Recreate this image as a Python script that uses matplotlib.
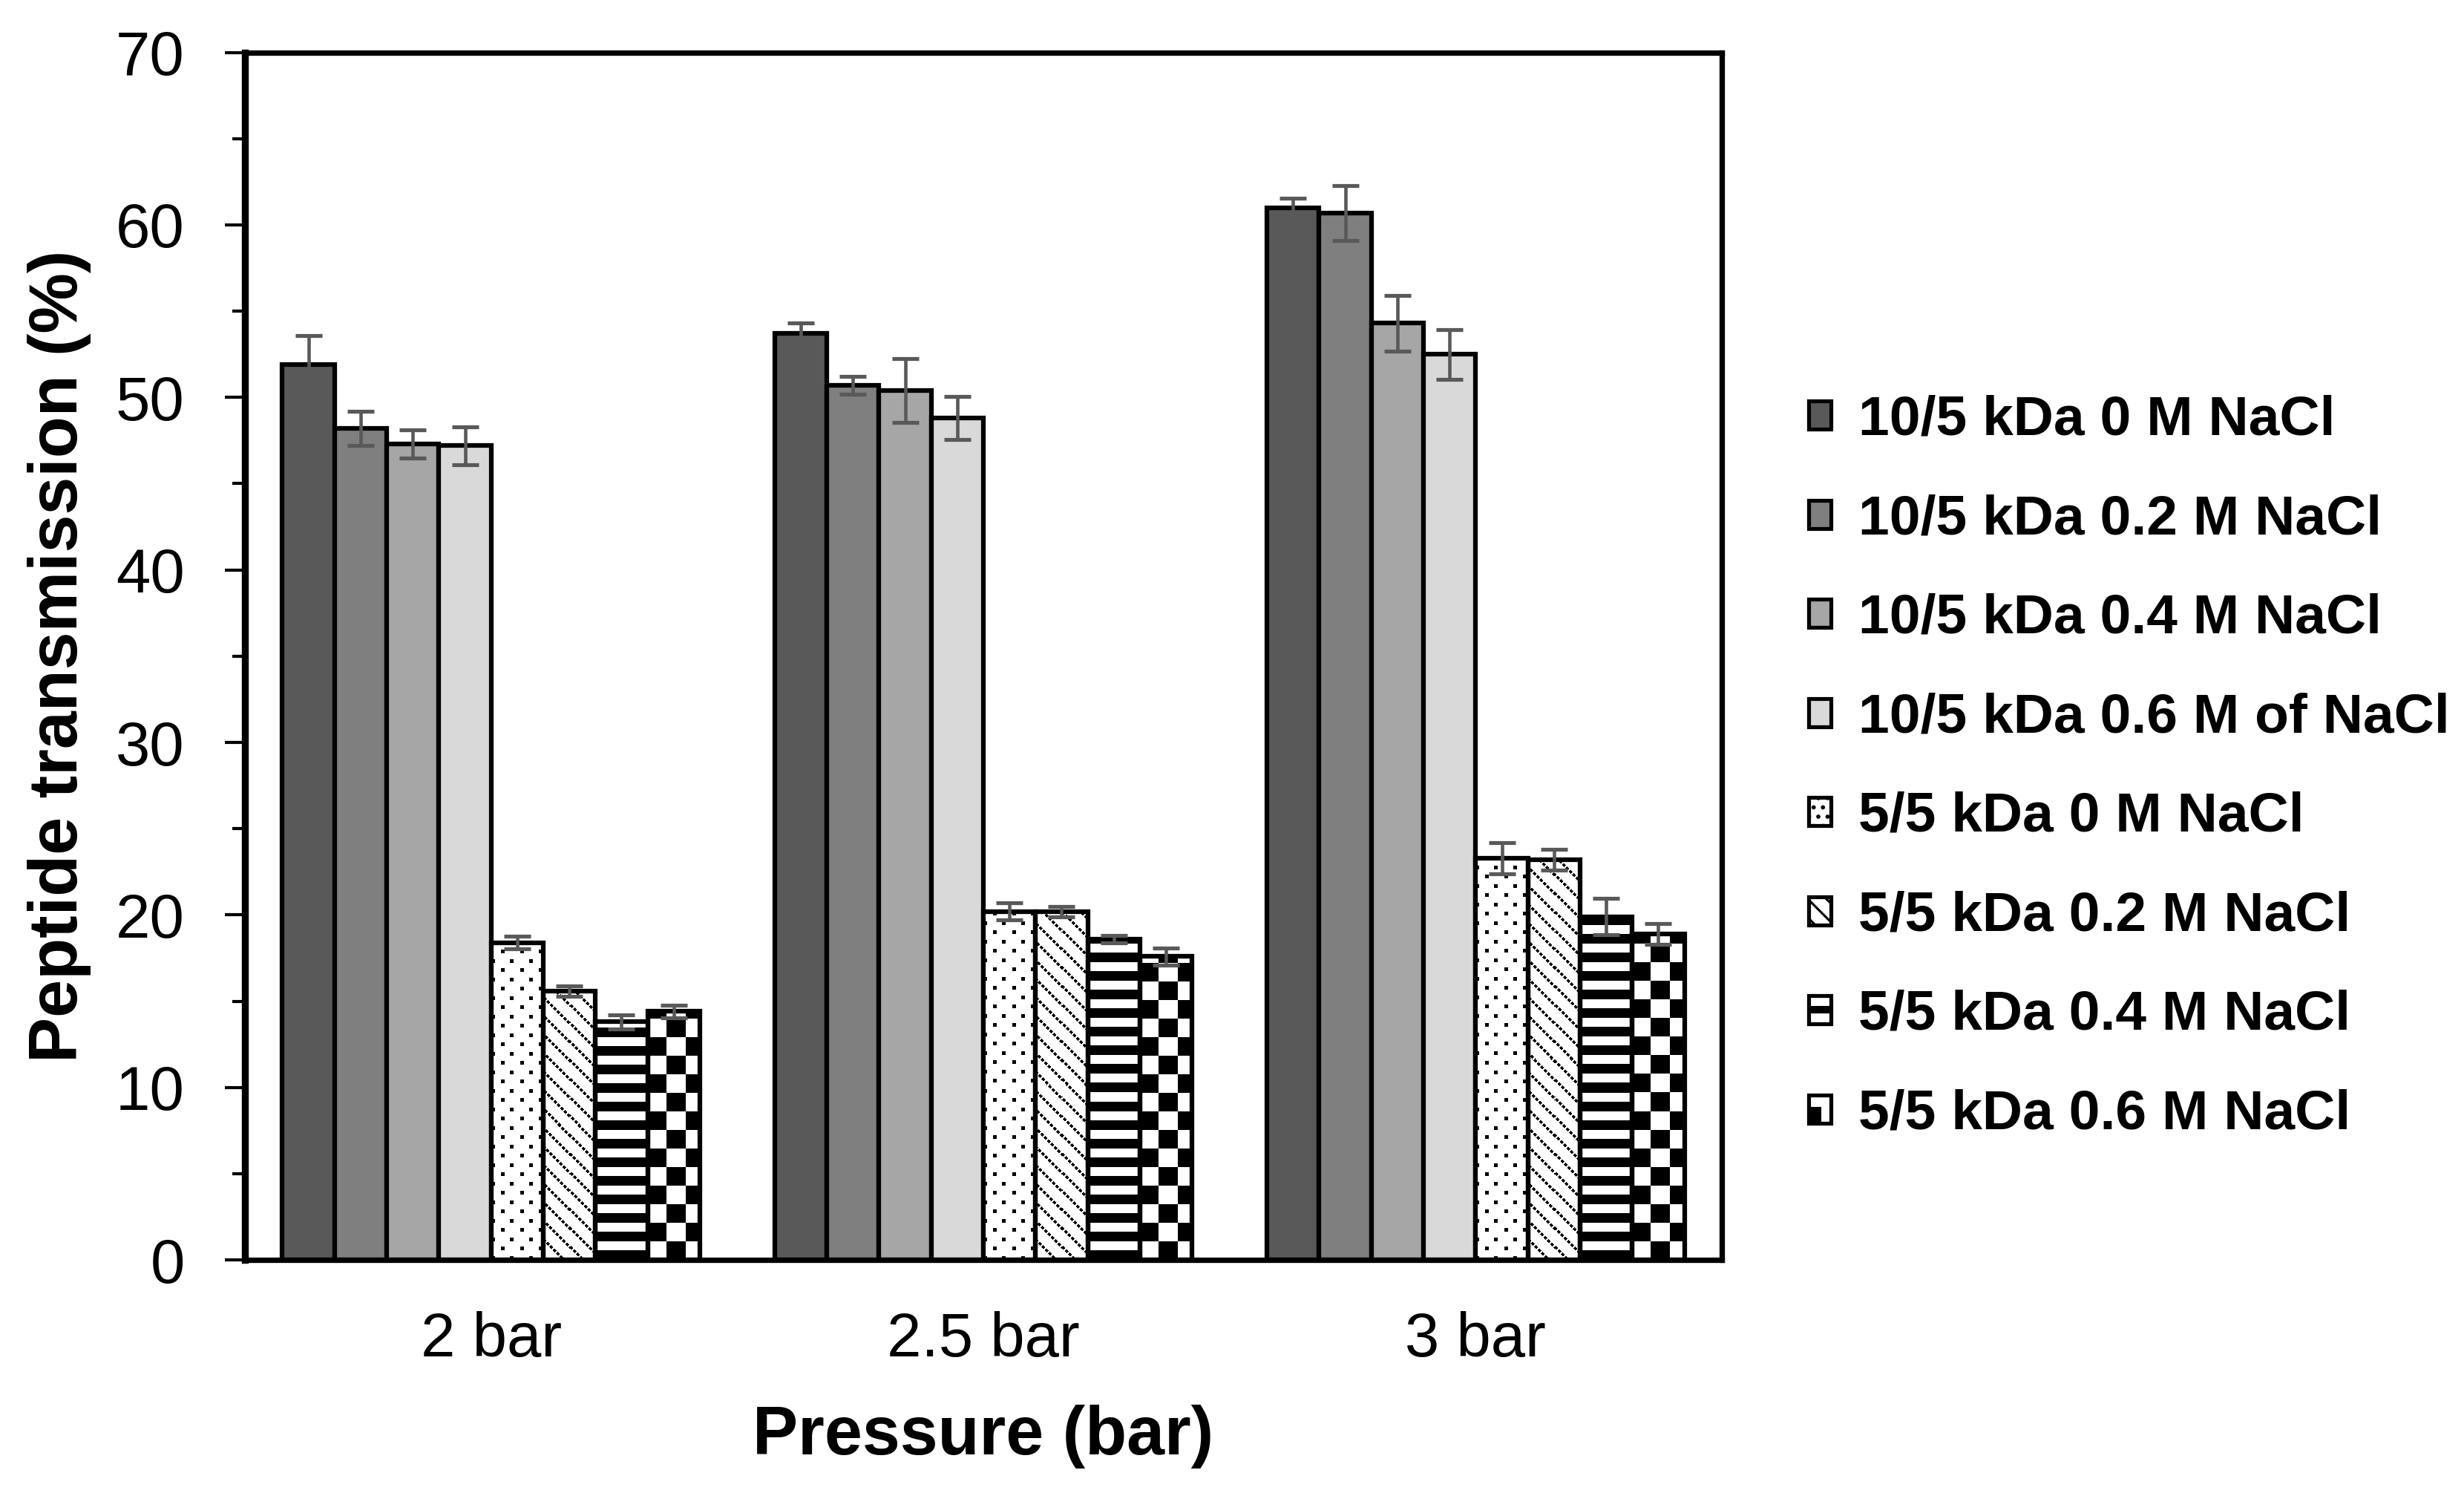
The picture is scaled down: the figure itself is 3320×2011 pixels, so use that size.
import numpy as np
import matplotlib.pyplot as plt
from matplotlib.patches import Patch, Rectangle
from matplotlib.legend_handler import HandlerPatch
from matplotlib.ticker import MultipleLocator

plt.rcParams['font.family'] = ['Liberation Sans', 'DejaVu Sans']
plt.rcParams['hatch.linewidth'] = 1.5

pressures = ['2 bar', '2.5 bar', '3 bar']
labels = ['10/5 kDa 0 M NaCl', '10/5 kDa 0.2 M NaCl', '10/5 kDa 0.4 M NaCl',
          '10/5 kDa 0.6 M of NaCl', '5/5 kDa 0 M NaCl', '5/5 kDa 0.2 M NaCl',
          '5/5 kDa 0.4 M NaCl', '5/5 kDa 0.6 M NaCl']

# mean transmission (%) at 2, 2.5, 3 bar
m10_00 = [51.9, 53.7, 61.0]
m10_02 = [48.2, 50.7, 60.7]
m10_04 = [47.3, 50.4, 54.3]
m10_06 = [47.2, 48.8, 52.5]
m5_00 = [18.4, 20.2, 23.3]
m5_02 = [15.6, 20.2, 23.2]
m5_04 = [13.8, 18.6, 19.9]
m5_06 = [14.4, 17.6, 18.9]

# error bars
e10_00 = [1.7, 0.6, 0.55]
e10_02 = [1.0, 0.5, 1.6]
e10_04 = [0.8, 1.85, 1.6]
e10_06 = [1.1, 1.25, 1.45]
e5_00 = [0.35, 0.5, 0.9]
e5_02 = [0.3, 0.3, 0.6]
e5_04 = [0.4, 0.2, 1.05]
e5_06 = [0.35, 0.5, 0.6]

means = [m10_00, m10_02, m10_04, m10_06, m5_00, m5_02, m5_04, m5_06]
errs = [e10_00, e10_02, e10_04, e10_06, e5_00, e5_02, e5_04, e5_06]
colors = ['#595959', '#7f7f7f', '#a6a6a6', '#d9d9d9', None, None, None, None]
patterns = [None, None, None, None, 'dots', 'diag', 'stripes', 'checker']


def texture(kind, nx, ny):
    yy, xx = np.mgrid[0:ny, 0:nx]
    if kind == 'dots':
        black = ((xx % 25 < 5) & (yy % 25 < 5)) | (((xx + 12) % 25 < 5) & ((yy + 12) % 25 < 5))
    elif kind == 'diag':
        black = ((xx + yy) % 25 < 5) & ((xx - yy) % 9 < 6)
    elif kind == 'stripes':
        black = (yy % 25) < 13
    else:
        black = ((xx // 25) + (yy // 25)) % 2 == 1
    return np.where(black, 0.0, 1.0)


class TextureHandler(HandlerPatch):
    def __init__(self, kind):
        super().__init__()
        self.kind = kind

    def create_artists(self, legend, orig_handle, xdescent, ydescent,
                       width, height, fontsize, trans):
        x0, y0 = -xdescent, -ydescent
        arts = [Rectangle((x0, y0), width, height, facecolor='white',
                          edgecolor='black', lw=2.5, transform=trans)]
        if self.kind == 'stripes':
            arts.append(Rectangle((x0, y0 + 0.4 * height), width, 0.2 * height,
                                  color='black', transform=trans))
        elif self.kind == 'checker':
            arts.append(Rectangle((x0, y0), 0.55 * width, 0.55 * height,
                                  color='black', transform=trans))
        return arts


fig = plt.figure(figsize=(3320 / 150, 2011 / 150), dpi=150)
ax = fig.add_axes([0.0994, 0.1561, 0.5994, 0.8088])
ax.set_xlim(-0.5, 2.5)
ax.set_ylim(0, 70)

x = np.arange(len(pressures))
w = 0.106
handles = []
handler_map = {}
for i, (lab, v, e) in enumerate(zip(labels, means, errs)):
    pos = x + (i - 3.5) * w
    if colors[i] is not None:
        ax.bar(pos, v, w, color=colors[i], edgecolor='black', linewidth=3, zorder=2)
        h = Patch(facecolor=colors[i], edgecolor='black', linewidth=2.5)
    else:
        bars = ax.bar(pos, v, w, facecolor='none', edgecolor='black', linewidth=3, zorder=3)
        for b in bars:
            bx0, bx1 = b.get_x(), b.get_x() + b.get_width()
            (px0, py0), (px1, py1) = ax.transData.transform([(bx0, 0), (bx1, b.get_height())])
            img = texture(patterns[i], int(round(px1 - px0)), int(round(py1 - py0)))
            im = ax.imshow(img, cmap='gray', vmin=0, vmax=1, origin='lower',
                           extent=(bx0, bx1, 0, b.get_height()), aspect='auto',
                           interpolation='nearest', zorder=2)
            im.set_clip_path(b)
        if patterns[i] == 'dots':
            h = Patch(facecolor='white', edgecolor='black', linewidth=2.5, hatch='..')
        elif patterns[i] == 'diag':
            h = Patch(facecolor='white', edgecolor='black', linewidth=2.5, hatch='\\\\')
        else:
            h = Patch(facecolor='white', edgecolor='black')
            handler_map[h] = TextureHandler(patterns[i])
    handles.append(h)
    ax.errorbar(pos, v, yerr=e, fmt='none', ecolor='#595959', elinewidth=2.2,
                capsize=8.6, capthick=2.5, zorder=4)

ax.set_xlim(-0.5, 2.5)
ax.set_ylim(0, 70)
ax.set_xticks(x)
ax.set_xticklabels(pressures)
ax.yaxis.set_major_locator(MultipleLocator(10))
ax.yaxis.set_minor_locator(MultipleLocator(5))
ax.tick_params(axis='y', which='major', length=13, width=2, labelsize=40, pad=26)
ax.tick_params(axis='y', which='minor', length=8, width=2)
ax.tick_params(axis='x', length=0, labelsize=40, pad=33)
for s in ax.spines.values():
    s.set_linewidth(3.5)
ax.spines['left'].set_linewidth(4.5)

ax.set_ylabel('Peptide transmission (%)', fontsize=44, fontweight='bold')
ax.yaxis.set_label_coords(-0.104, 0.5)
ax.set_xlabel('Pressure (bar)', fontsize=44, fontweight='bold')
ax.xaxis.set_label_coords(0.5, -0.12)

fig.legend(handles, labels, handler_map=handler_map, loc='center left',
           bbox_to_anchor=(0.734, 0.486), frameon=False, borderpad=0,
           borderaxespad=0, prop={'weight': 'bold', 'size': 36},
           handlelength=0.4, handleheight=0.4, handletextpad=0.5,
           labelspacing=0.86)

fig.savefig('out.png', dpi=150)
